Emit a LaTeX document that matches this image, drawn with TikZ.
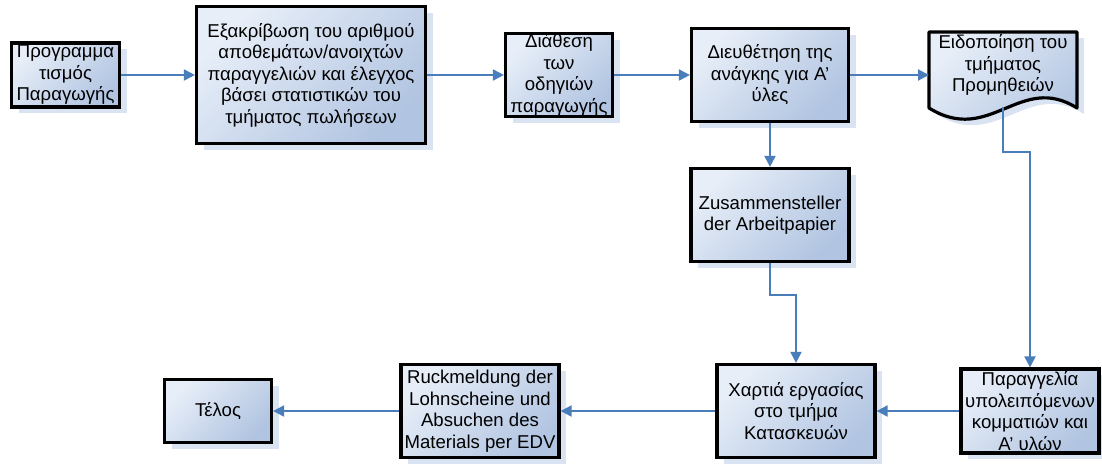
\documentclass[tikz,border=0pt]{standalone}
\usepackage{fontspec}
\setmainfont{Liberation Sans}
\usetikzlibrary{arrows.meta,shadows}

\definecolor{boxlight}{HTML}{E7EEF8}
\definecolor{boxdark}{HTML}{B1C4E1}
\definecolor{shadowc}{HTML}{D9E3F1}
\definecolor{flowblue}{HTML}{4A7EBB}

\tikzset{
  procbox/.style={
    draw=black, line width=3.2pt, inner sep=0pt, align=center,
    top color=boxlight, bottom color=boxdark, shading angle=45,
    drop shadow={shadow xshift=7pt, shadow yshift=-6pt, fill=shadowc, opacity=1},
    font=\fontsize{18.6}{21.5}\selectfont
  },
  flow/.style={draw=flowblue, line width=2pt,
    -{Triangle[length=11pt,width=11pt]}},
  label/.style={align=center, inner sep=0pt,
    font=\fontsize{18.6}{21.5}\selectfont}
}

\begin{document}
\begin{tikzpicture}[x=1pt,y=-1pt]
\useasboundingbox[fill=white] (0,0) rectangle (1102,463);

% upper row
\node[procbox, minimum width=108, minimum height=64] (plan) at (65.5,75)
  {Προγραμμα\\τισμός\\Παραγωγής};
\node[procbox, minimum width=229, minimum height=137] (check) at (311,75)
  {Εξακρίβωση του αριθμού\\αποθεμάτων/ανοιχτών\\παραγγελιών και έλεγχος\\βάσει στατιστικών του\\τμήματος πωλήσεων};
\node[procbox, minimum width=107, minimum height=83] (instr) at (559,75)
  {Διάθεση\\των\\οδηγιών\\παραγωγής};
\node[procbox, minimum width=157, minimum height=93] (need) at (770,75)
  {Διευθέτηση της\\ανάγκης για Α’\\ύλες};

% document shape: notify the purchasing department
\fill[shadowc, shift={(7,6)}] (929,32) -- (1077,32) -- (1077,108)
  .. controls (1020,72) and (990,146) .. (929,108) -- cycle;
\shade[top color=boxlight, bottom color=boxdark, shading angle=45,
  draw=black, line width=3.2pt, line join=round]
  (929,32) -- (1077,32) -- (1077,108)
  .. controls (1020,72) and (990,146) .. (929,108) -- cycle;
\node[label] (notify) at (1003,65) {Ειδοποίηση του\\τμήματος\\Προμηθειών};
\coordinate (notifyin) at (929,75);
\coordinate (notifyout) at (1003,107);

% middle and lower rows
\node[procbox, minimum width=158, minimum height=93] (compile) at (770,215)
  {Zusammensteller\\der Arbeitpapier};
\node[procbox, minimum width=158, minimum height=93] (work) at (796,411)
  {Χαρτιά εργασίας\\στο τμήμα\\Κατασκευών};
\node[procbox, minimum width=138, minimum height=84] (order) at (1030,411)
  {Παραγγελία\\υπολειπόμενων\\κομματιών και\\Α’ υλών};
\node[procbox, minimum width=158, minimum height=93] (report) at (480,411)
  {Ruckmeldung der\\Lohnscheine und\\Absuchen des\\Materials per EDV};
\node[procbox, minimum width=107, minimum height=63] (finish) at (218,411)
  {Τέλος};

% connectors
\draw[flow] (plan.east) -- (check.west |- plan.east);
\draw[flow] (check.east) -- (instr.west);
\draw[flow] (instr.east) -- (need.west);
\draw[flow] (need.east) -- (notifyin);
\draw[flow] (need.south) -- (compile.north);
\draw[flow] (compile.south) -- ++(0,32) -| (work.north);
\draw[flow] (notifyout) -- (1003,152) -| (order.north);
\draw[flow] (order.west) -- (work.east);
\draw[flow] (work.west) -- (report.east);
\draw[flow] (report.west) -- (finish.east);
\end{tikzpicture}
\end{document}
